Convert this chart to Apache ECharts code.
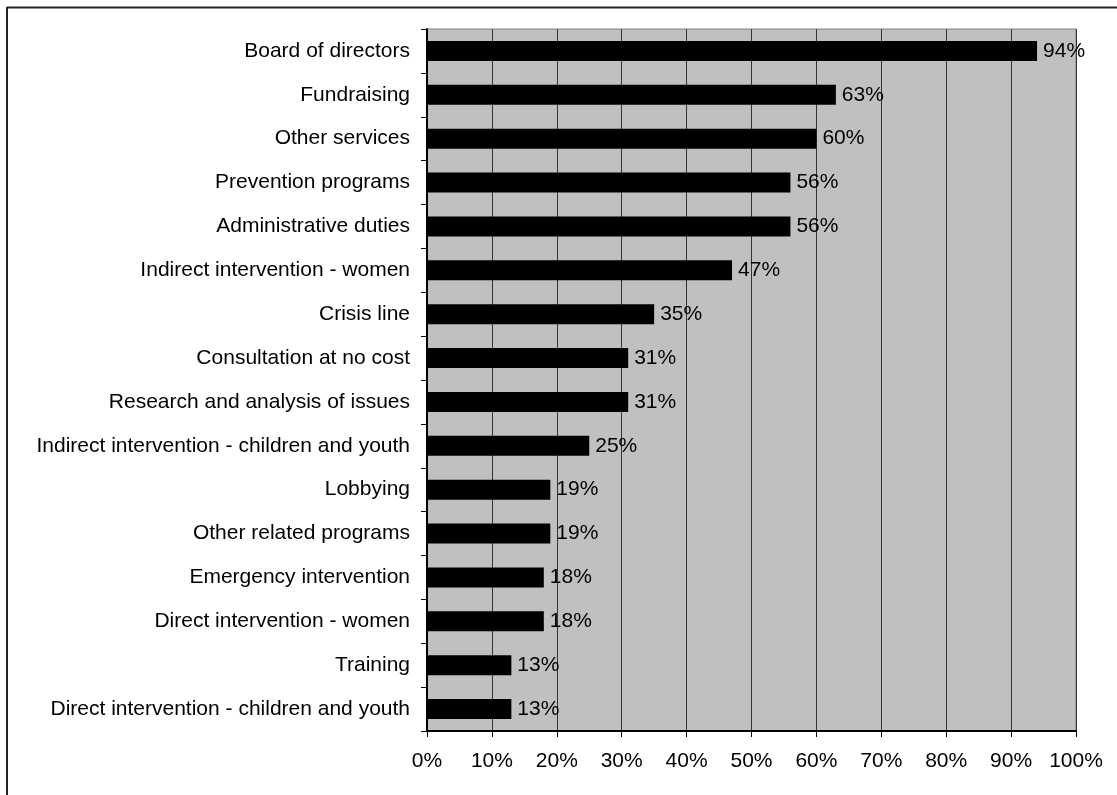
<!DOCTYPE html>
<html>
<head>
<meta charset="utf-8">
<style>
  html, body { margin: 0; padding: 0; background: #ffffff; }
  #chart { width: 1117px; height: 795px; }
</style>
<script src="https://cdn.jsdelivr.net/npm/echarts@6/dist/echarts.min.js"></script>
</head>
<body>
<div id="chart"></div>
<script>
// Activities listed from top to bottom of the chart
const categories = [
  'Board of directors',
  'Fundraising',
  'Other services',
  'Prevention programs',
  'Administrative duties',
  'Indirect intervention - women',
  'Crisis line',
  'Consultation at no cost',
  'Research and analysis of issues',
  'Indirect intervention - children and youth',
  'Lobbying',
  'Other related programs',
  'Emergency intervention',
  'Direct intervention - women',
  'Training',
  'Direct intervention - children and youth'
];

// Share of organizations (%) for each activity, same order
const shares = [94, 63, 60, 56, 56, 47, 35, 31, 31, 25, 19, 19, 18, 18, 13, 13];

// X-axis scale (percent)
const xMin = 0;
const xMax = 100;
const xStep = 10;

const font = 'Liberation Sans, Arial, sans-serif';

const chart = echarts.init(document.getElementById('chart'), null, { renderer: 'canvas' });

// Category axis runs bottom-up, so reverse to keep the first item on top
const yCats = categories.slice().reverse();
const yVals = shares.slice().reverse();

chart.setOption({
  animation: false,
  backgroundColor: '#ffffff',
  grid: {
    left: 427,
    right: 41,
    top: 29,
    bottom: 64,
    show: true,
    backgroundColor: '#c0c0c0',
    borderColor: '#808080',
    borderWidth: 1
  },
  xAxis: {
    type: 'value',
    min: xMin,
    max: xMax,
    interval: xStep,
    axisLine: { show: true, onZero: false, lineStyle: { color: '#000', width: 2 } },
    axisTick: { show: true, length: 6, lineStyle: { color: '#000', width: 1 } },
    splitLine: { show: true, lineStyle: { color: '#333', width: 1 } },
    axisLabel: {
      color: '#000',
      fontFamily: font,
      fontSize: 21,
      margin: 20,
      formatter: v => v + '%'
    }
  },
  yAxis: {
    type: 'category',
    data: yCats,
    axisLine: { show: true, lineStyle: { color: '#000', width: 2 } },
    axisTick: { show: true, length: 6, lineStyle: { color: '#000', width: 1 } },
    splitLine: { show: false },
    axisLabel: {
      color: '#000',
      fontFamily: font,
      fontSize: 21,
      margin: 17
    }
  },
  series: [{
    type: 'bar',
    data: yVals,
    barWidth: 20,
    itemStyle: { color: '#000' },
    label: {
      show: true,
      position: 'right',
      distance: 6,
      color: '#000',
      fontFamily: font,
      fontSize: 21,
      formatter: p => p.value + '%'
    }
  }],
  graphic: [
    // chart-area frame along the left and top edges
    { type: 'line', shape: { x1: 7, y1: 7.5, x2: 1117, y2: 7.5 }, style: { stroke: '#222', lineWidth: 2 }, silent: true },
    { type: 'line', shape: { x1: 7, y1: 7, x2: 7, y2: 795 }, style: { stroke: '#222', lineWidth: 2 }, silent: true }
  ]
});
</script>
</body>
</html>
